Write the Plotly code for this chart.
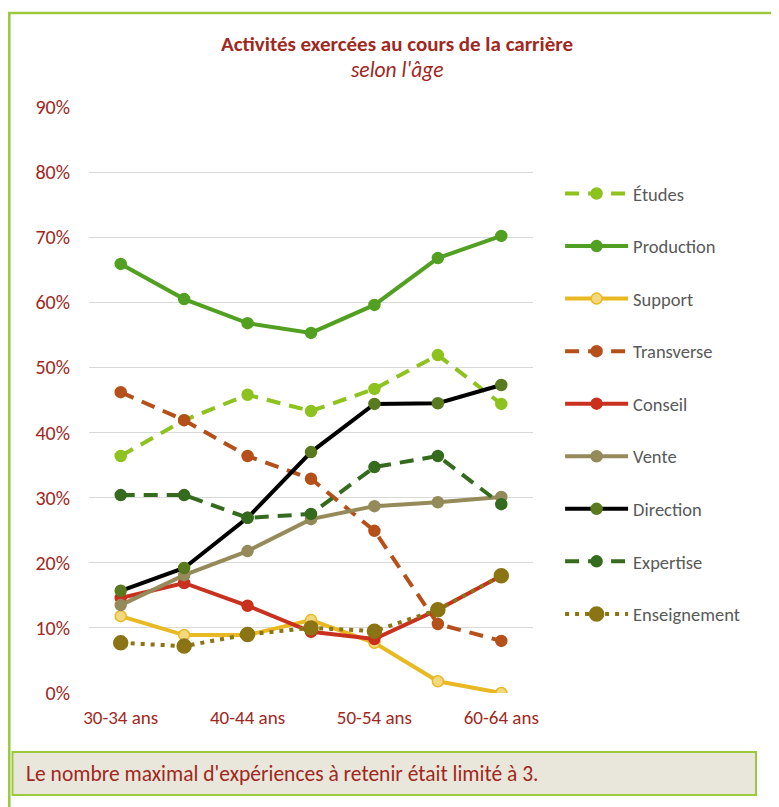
import plotly.graph_objects as go

categories = ["30-34 ans", "35-39 ans", "40-44 ans", "45-49 ans", "50-54 ans", "55-59 ans", "60-64 ans"]
tick_labels = ["30-34 ans", "40-44 ans", "50-54 ans", "60-64 ans"]

etudes = [0.364, 0.419, 0.458, 0.433, 0.467, 0.519, 0.444]
production = [0.659, 0.605, 0.568, 0.553, 0.596, 0.668, 0.702]
support = [0.118, 0.089, 0.089, 0.112, 0.077, 0.018, 0.000]
transverse = [0.462, 0.419, 0.364, 0.329, 0.249, 0.106, 0.080]
conseil = [0.146, 0.169, 0.134, 0.094, 0.083, 0.128, 0.180]
vente = [0.135, 0.181, 0.218, 0.267, 0.287, 0.293, 0.301]
direction = [0.157, 0.192, 0.269, 0.370, 0.444, 0.445, 0.473]
expertise = [0.304, 0.304, 0.269, 0.275, 0.347, 0.364, 0.290]
enseignement = [0.077, 0.072, 0.090, 0.100, 0.095, 0.128, 0.180]

FONT = "Carlito, 'Liberation Sans Narrow', 'Noto Sans', sans-serif"
RED = "#A0281E"
GREEN_BORDER = "#9BC83F"

series = [
    ("Études", etudes, "#8DC21F", "#8DC21F", "#8DC21F", "14px,9px", 11),
    ("Production", production, "#52A022", "#52A022", "#52A022", "solid", 11),
    ("Support", support, "#E8B923", "#F3D880", "#E8B923", "solid", 11),
    ("Transverse", transverse, "#B5501A", "#B5501A", "#B5501A", "14px,9px", 11),
    ("Conseil", conseil, "#C9301E", "#C9301E", "#C9301E", "solid", 11),
    ("Vente", vente, "#948A5A", "#948A5A", "#948A5A", "solid", 11),
    ("Direction", direction, "#000000", "#5A7A1E", "#5A7A1E", "solid", 11),
    ("Expertise", expertise, "#346B1E", "#346B1E", "#346B1E", "14px,9px", 11),
    ("Enseignement", enseignement, "#8B7413", "#8B7413", "#8B7413", "4px,6px", 14),
]

fig = go.Figure()
for i, (name, vals, lc, mfill, mline, dash, msize) in enumerate(series):
    fig.add_trace(go.Scatter(
        x=categories, y=vals, name=name, mode="lines+markers",
        line=dict(color=lc, width=4, dash=dash),
        marker=dict(size=msize, color=mfill, line=dict(color=mline, width=1.5)),
        legendgroup=f"g{i}",
    ))

# page body has an 8px margin: figure coords = screen coords - 8
fig.update_layout(
    width=771, height=799,
    margin=dict(l=81, r=246, t=99, b=114),
    paper_bgcolor="white", plot_bgcolor="white",
    font=dict(family=FONT, size=18, color="#595959"),
    showlegend=True,
    legend=dict(x=1.061, y=0.884, xanchor="left", yanchor="top",
                font=dict(size=18.5, color="#595959"), tracegroupgap=25.5,
                itemwidth=63, bgcolor="rgba(0,0,0,0)"),
    xaxis=dict(type="category", categoryorder="array", categoryarray=categories,
               range=[-0.5, 6.5], tickvals=tick_labels, ticktext=tick_labels,
               showgrid=False, showline=False, zeroline=False, ticks="",
               ticklabelstandoff=11,
               tickfont=dict(size=19, color=RED, family=FONT)),
    yaxis=dict(range=[0, 0.9], dtick=0.1, tickformat=".0%",
               showgrid=True, gridcolor="#D9D9D9", gridwidth=1,
               zeroline=False, showline=False, ticks="", ticklen=0,
               tickfont=dict(size=20, color=RED, family=FONT), ticklabelstandoff=18),
    shapes=[
        dict(type="rect", xref="paper", yref="paper",
             x0=(9.3 - 89) / 444, x1=(800 - 89) / 444,
             y0=(693 - 830) / 586, y1=(693 - 13) / 586,
             line=dict(color=GREEN_BORDER, width=2.5), fillcolor="rgba(0,0,0,0)", layer="below"),
        dict(type="rect", xref="paper", yref="paper",
             x0=(12.5 - 89) / 444, x1=(756 - 89) / 444,
             y0=(693 - 795) / 586, y1=(693 - 752) / 586,
             line=dict(color=GREEN_BORDER, width=2), fillcolor="#E9E6DB", layer="below"),
    ],
    annotations=[
        dict(text="<b>Activités exercées au cours de la carrière</b>", xref="paper", yref="paper",
             x=(397 - 89) / 444, y=(693 - 44) / 586, xanchor="center", yanchor="middle",
             showarrow=False, font=dict(size=21, color=RED, family=FONT)),
        dict(text="<i>selon l'âge</i>", xref="paper", yref="paper",
             x=(397 - 89) / 444, y=(693 - 70) / 586, xanchor="center", yanchor="middle",
             showarrow=False, font=dict(size=21.5, color=RED, family=FONT)),
        dict(text="Le nombre maximal d'expériences à retenir était limité à 3.", xref="paper", yref="paper",
             x=(24 - 89) / 444, y=(693 - 774) / 586, xanchor="left", yanchor="middle",
             showarrow=False, font=dict(size=21.5, color=RED, family=FONT)),
    ],
)

fig.write_html("out.html")
